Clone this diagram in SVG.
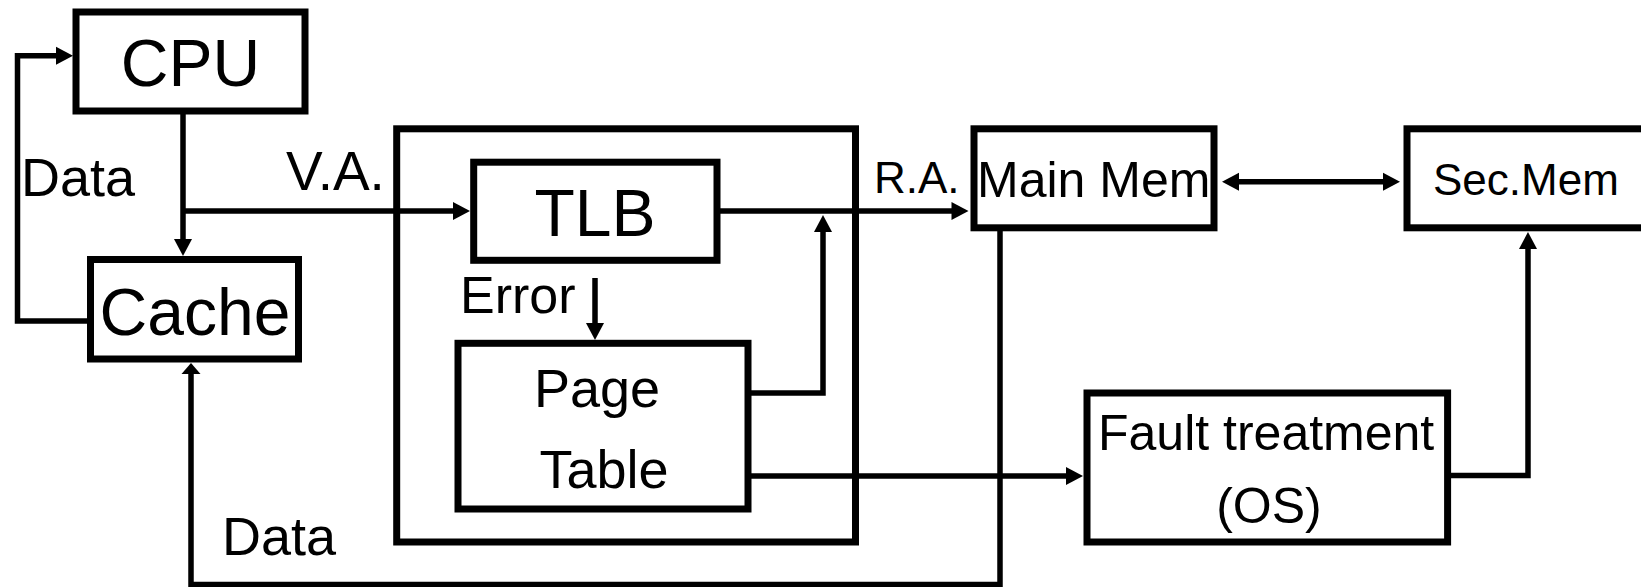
<svg xmlns="http://www.w3.org/2000/svg" width="1641" height="587" viewBox="0 0 1641 587">
<style>
.box{fill:#fff;stroke:#000;stroke-width:7}
.frame{fill:none;stroke:#000;stroke-width:7}
.ln{fill:none;stroke:#000;stroke-width:5.5}
.t{font-family:"Liberation Sans",Arial,sans-serif;fill:#000}
</style>
<defs>
<marker id="arr" markerUnits="userSpaceOnUse" markerWidth="18" markerHeight="20" refX="1" refY="9" orient="auto-start-reverse" overflow="visible"><path d="M0,0 L17,9 L0,18 z" fill="#000"/></marker>
<marker id="arrS" markerUnits="userSpaceOnUse" markerWidth="12" markerHeight="20" refX="1" refY="9.5" orient="auto" overflow="visible"><path d="M0,0 L11,9.5 L0,19 z" fill="#000"/></marker>
</defs>
<rect width="1641" height="587" fill="#fff"/>
<g id="mmu-frame"><rect class="frame" x="396.7" y="128.8" width="458.8" height="413.2"/></g>
<g id="connectors">
<path class="ln" d="M90 321 H17.5 V55.7 H57" marker-end="url(#arr)"/>
<path class="ln" d="M183 111 V240" marker-end="url(#arr)"/>
<path class="ln" d="M183 211 H454" marker-end="url(#arr)"/>
<path class="ln" d="M717 211 H952.5" marker-end="url(#arr)"/>
<path class="ln" d="M748 393 H823 V231" marker-end="url(#arr)"/>
<path class="ln" d="M595 278 V324" marker-end="url(#arr)"/>
<path class="ln" d="M748 476 H1067" marker-end="url(#arr)"/>
<path class="ln" d="M1447 475.5 H1528 V248" marker-end="url(#arr)"/>
<path class="ln" d="M1238 181.7 H1384" marker-start="url(#arr)" marker-end="url(#arr)"/>
<path class="ln" d="M1000 228 V584.5 H191 V373" marker-end="url(#arrS)"/>
</g>
<g id="cpu"><rect class="box" x="76" y="12" width="229" height="99"/><text class="t" x="190.5" y="86" font-size="66" text-anchor="middle">CPU</text></g>
<g id="cache"><rect class="box" x="90.5" y="259.5" width="208" height="99.5"/><text class="t" x="195" y="335" font-size="66" text-anchor="middle">Cache</text></g>
<g id="tlb"><rect class="box" x="473.7" y="162.2" width="243.3" height="98.1"/><text class="t" x="595" y="236" font-size="66" text-anchor="middle">TLB</text></g>
<g id="page-table"><rect class="box" x="458" y="343.3" width="290" height="165.7"/><text class="t" x="597" y="406.7" font-size="54" text-anchor="middle">Page</text><text class="t" x="604" y="488" font-size="54" text-anchor="middle">Table</text></g>
<g id="main-mem"><rect class="box" x="974" y="128.8" width="240" height="99"/><text class="t" x="977" y="197" font-size="50">Main Mem</text></g>
<g id="sec-mem"><rect class="box" x="1407" y="128.8" width="300" height="99"/><text class="t" x="1433" y="195" font-size="44">Sec.Mem</text></g>
<g id="fault"><rect class="box" x="1087" y="393" width="360.6" height="149"/><text class="t" x="1098" y="450" font-size="50">Fault treatment</text><text class="t" x="1269" y="523" font-size="50" text-anchor="middle">(OS)</text></g>
<g id="labels">
<text class="t" x="21" y="196" font-size="54">Data</text>
<text class="t" x="286" y="190" font-size="55">V.A.</text>
<text class="t" x="460" y="313" font-size="52">Error</text>
<text class="t" x="874" y="193" font-size="44">R.A.</text>
<text class="t" x="222" y="555" font-size="54">Data</text>
</g>
</svg>
